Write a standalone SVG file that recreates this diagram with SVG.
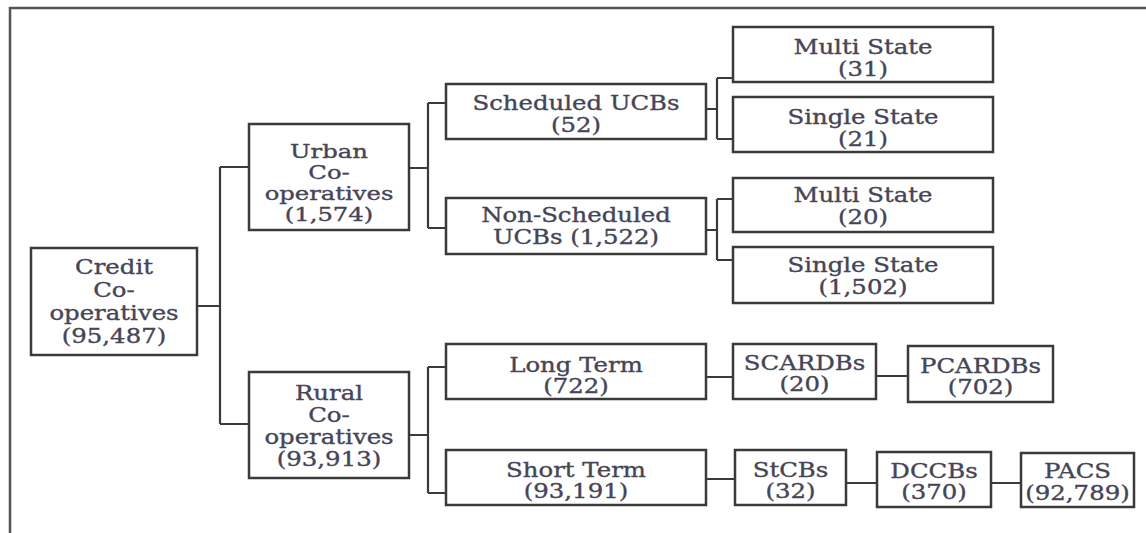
<svg xmlns="http://www.w3.org/2000/svg" width="1146" height="533" viewBox="0 0 1146 533">
<style>
  .box { fill: #ffffff; stroke: #3a3a3a; stroke-width: 2.5; }
  .t { font-family: "DejaVu Serif", "Liberation Serif", serif; font-size: 20px; fill: #454556; stroke: #454556; stroke-width: 0.35; text-anchor: middle; }
  .s { font-size: 18px; }
  .c { fill: none; stroke: #3a3a3a; stroke-width: 2.2; }
  .frame { fill: none; stroke: #555555; stroke-width: 2.5; }
</style>
<rect x="0" y="0" width="1146" height="533" fill="#ffffff"/>
<path class="frame" d="M10,533 V8 H1146"/>

<g id="connectors">
  <path class="c" d="M197,306 H220 M220,167 V424 M220,167 H249 M220,424 H249"/>
  <path class="c" d="M409,168 H428 M428,103 V228 M428,103 H446 M428,228 H446"/>
  <path class="c" d="M706,109 H717 M717,78 V139 M717,78 H733 M717,139 H733"/>
  <path class="c" d="M706,230 H717 M717,199 V260 M717,199 H733 M717,260 H733"/>
  <path class="c" d="M409,435 H428 M428,367 V493 M428,367 H446 M428,493 H446"/>
  <path class="c" d="M706,377 H733 M876,376 H908"/>
  <path class="c" d="M706,479 H735 M846,483 H877 M991,483 H1021"/>
</g>

<g id="credit">
  <rect class="box" x="31" y="248" width="166" height="107"/>
  <text class="t" transform="translate(114,274) scale(1.22,1)">Credit</text>
  <text class="t" transform="translate(114,297) scale(1.22,1)">Co-</text>
  <text class="t" transform="translate(114,320) scale(1.22,1)">operatives</text>
  <text class="t" transform="translate(114,343) scale(1.22,1)">(95,487)</text>
</g>

<g id="urban">
  <rect class="box" x="249" y="124" width="160" height="106"/>
  <text class="t s" transform="translate(329,158) scale(1.35,1)">Urban</text>
  <text class="t s" transform="translate(329,179) scale(1.35,1)">Co-</text>
  <text class="t s" transform="translate(329,200) scale(1.35,1)">operatives</text>
  <text class="t s" transform="translate(329,221) scale(1.35,1)">(1,574)</text>
</g>

<g id="rural">
  <rect class="box" x="249" y="372" width="160" height="106"/>
  <text class="t" transform="translate(329,400) scale(1.22,1)">Rural</text>
  <text class="t" transform="translate(329,422) scale(1.22,1)">Co-</text>
  <text class="t" transform="translate(329,444) scale(1.22,1)">operatives</text>
  <text class="t" transform="translate(329,466) scale(1.22,1)">(93,913)</text>
</g>

<g id="scheduled">
  <rect class="box" x="446" y="84" width="260" height="55"/>
  <text class="t" transform="translate(576,110) scale(1.22,1)">Scheduled UCBs</text>
  <text class="t" transform="translate(576,132) scale(1.22,1)">(52)</text>
</g>

<g id="nonscheduled">
  <rect class="box" x="446" y="198" width="260" height="56"/>
  <text class="t" transform="translate(576,222) scale(1.22,1)">Non-Scheduled</text>
  <text class="t" transform="translate(576,244) scale(1.22,1)">UCBs (1,522)</text>
</g>

<g id="multi31">
  <rect class="box" x="733" y="27" width="260" height="55"/>
  <text class="t" transform="translate(863,54) scale(1.22,1)">Multi State</text>
  <text class="t" transform="translate(863,76) scale(1.22,1)">(31)</text>
</g>

<g id="single21">
  <rect class="box" x="733" y="97" width="260" height="55"/>
  <text class="t" transform="translate(863,124) scale(1.22,1)">Single State</text>
  <text class="t" transform="translate(863,146) scale(1.22,1)">(21)</text>
</g>

<g id="multi20">
  <rect class="box" x="733" y="178" width="260" height="54"/>
  <text class="t" transform="translate(863,202) scale(1.22,1)">Multi State</text>
  <text class="t" transform="translate(863,224) scale(1.22,1)">(20)</text>
</g>

<g id="single1502">
  <rect class="box" x="733" y="247" width="260" height="56"/>
  <text class="t" transform="translate(863,272) scale(1.22,1)">Single State</text>
  <text class="t" transform="translate(863,294) scale(1.22,1)">(1,502)</text>
</g>

<g id="longterm">
  <rect class="box" x="446" y="344" width="260" height="55"/>
  <text class="t" transform="translate(576,372) scale(1.22,1)">Long Term</text>
  <text class="t" transform="translate(576,393) scale(1.22,1)">(722)</text>
</g>

<g id="shortterm">
  <rect class="box" x="446" y="450" width="260" height="55"/>
  <text class="t" transform="translate(576,477) scale(1.22,1)">Short Term</text>
  <text class="t" transform="translate(576,498) scale(1.22,1)">(93,191)</text>
</g>

<g id="scardbs">
  <rect class="box" x="733" y="344" width="143" height="55"/>
  <text class="t" transform="translate(804.5,370) scale(1.22,1)">SCARDBs</text>
  <text class="t" transform="translate(804.5,391) scale(1.22,1)">(20)</text>
</g>

<g id="pcardbs">
  <rect class="box" x="908" y="346" width="145" height="56"/>
  <text class="t" transform="translate(980.5,373) scale(1.22,1)">PCARDBs</text>
  <text class="t" transform="translate(980.5,394) scale(1.22,1)">(702)</text>
</g>

<g id="stcbs">
  <rect class="box" x="735" y="450" width="111" height="55"/>
  <text class="t" transform="translate(790.5,477) scale(1.22,1)">StCBs</text>
  <text class="t" transform="translate(790.5,498) scale(1.22,1)">(32)</text>
</g>

<g id="dccbs">
  <rect class="box" x="877" y="452" width="114" height="55"/>
  <text class="t" transform="translate(934,478) scale(1.22,1)">DCCBs</text>
  <text class="t" transform="translate(934,499) scale(1.22,1)">(370)</text>
</g>

<g id="pacs">
  <rect class="box" x="1021" y="453" width="113" height="54"/>
  <text class="t" transform="translate(1077.5,478) scale(1.22,1)">PACS</text>
  <text class="t" transform="translate(1077.5,500) scale(1.22,1)">(92,789)</text>
</g>
</svg>
